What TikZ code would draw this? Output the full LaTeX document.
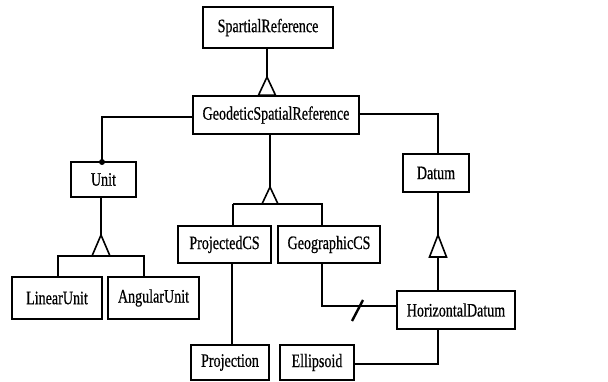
\documentclass[tikz,border=0pt]{standalone}
\usepackage{fontspec}
\setmainfont[FakeStretch=0.74,FakeBold=0.6]{Liberation Serif}
\usetikzlibrary{calc}
\begin{document}
\begin{tikzpicture}[x=1pt,y=-1pt,
  box/.style={draw,line width=1.7pt,inner sep=0pt,font=\fontsize{19}{21}\selectfont},
  conn/.style={line width=1.6pt},
  gen/.style={line width=1.6pt,fill=white,line join=miter}]
\useasboundingbox (0,0) rectangle (608,382);
% nodes
\node[box,minimum width=130pt,minimum height=41pt] (sp) at (268,27.5) {SpartialReference};
\node[box,minimum width=166pt,minimum height=38pt] (geo) at (276,115) {GeodeticSpatialReference};
\node[box,minimum width=65pt,minimum height=35pt] (unit) at (103.5,179.5) {Unit};
\node[box,minimum width=66pt,minimum height=38pt] (datum) at (436,173) {Datum};
\node[box,minimum width=93pt,minimum height=37pt] (pcs) at (224.5,244.5) {ProjectedCS};
\node[box,minimum width=102pt,minimum height=37pt] (gcs) at (329,244.5) {GeographicCS};
\node[box,minimum width=90pt,minimum height=42pt] (lu) at (57,298) {LinearUnit};
\node[box,minimum width=91pt,minimum height=42pt] (au) at (153.5,298) {AngularUnit};
\node[box,minimum width=118pt,minimum height=38pt] (hd) at (456,310) {HorizontalDatum};
\node[box,minimum width=78pt,minimum height=35pt] (proj) at (230,362.5) {Projection};
\node[box,minimum width=74pt,minimum height=35pt] (ell) at (317,362.5) {Ellipsoid};
% coordinates
\coordinate (a1) at (267,77);
\coordinate (a2) at (270,187);
\coordinate (b2) at (270,204);
\coordinate (a3) at (101,235);
\coordinate (b3) at (101,256);
\coordinate (a4) at (438,235);
\coordinate (b4) at (438,257);
% SpartialReference <- GeodeticSpatialReference
\draw[conn] (sp.south -| a1) -- (a1);
\draw[gen] (a1) -- ($(a1|-geo.north)+(-8.5,0)$) -- ($(a1|-geo.north)+(8.5,0)$) -- cycle;
% Geodetic -> ProjectedCS / GeographicCS
\draw[conn] (geo.south -| a2) -- (a2);
\draw[conn] (233,204) -| (pcs.north -| 233,0);
\draw[conn] (233,204) -- (322,204) -- (gcs.north -| 322,0);
\draw[gen] (a2) -- ($(b2)+(-8,0)$) -- ($(b2)+(8,0)$) -- cycle;
% Unit -> LinearUnit / AngularUnit
\draw[conn] (unit.south -| a3) -- (a3);
\draw[conn] (lu.north -| 58,0) -- (58,256) -- (144,256) -- (au.north -| 144,0);
\draw[gen] (a3) -- ($(b3)+(-9,0)$) -- ($(b3)+(9,0)$) -- cycle;
% Geodetic -- Unit
\draw[conn] (geo.west |- 0,117) -| (unit.north -| 102,0);
\fill (102,162) circle (3pt);
% Geodetic -- Datum
\draw[conn] (geo.east |- 0,114) -| (datum.north -| 438,0);
% Datum <- HorizontalDatum
\draw[conn] (datum.south -| 438,0) -- (a4);
\draw[conn] (b4) -- (hd.north -| 438,0);
\draw[gen] (a4) -- ($(b4)+(-8.5,0)$) -- ($(b4)+(8.5,0)$) -- cycle;
% GeographicCS -- HorizontalDatum
\draw[conn] (gcs.south -| 322,0) |- (hd.west |- 0,306);
\draw[line width=2.4pt] (352,321) -- (363,300);
% ProjectedCS -- Projection
\draw[conn] (pcs.south -| 232,0) -- (proj.north -| 232,0);
% Ellipsoid -- HorizontalDatum
\draw[conn] (ell.east |- 0,364) -| (hd.south -| 438,0);
\end{tikzpicture}
\end{document}
